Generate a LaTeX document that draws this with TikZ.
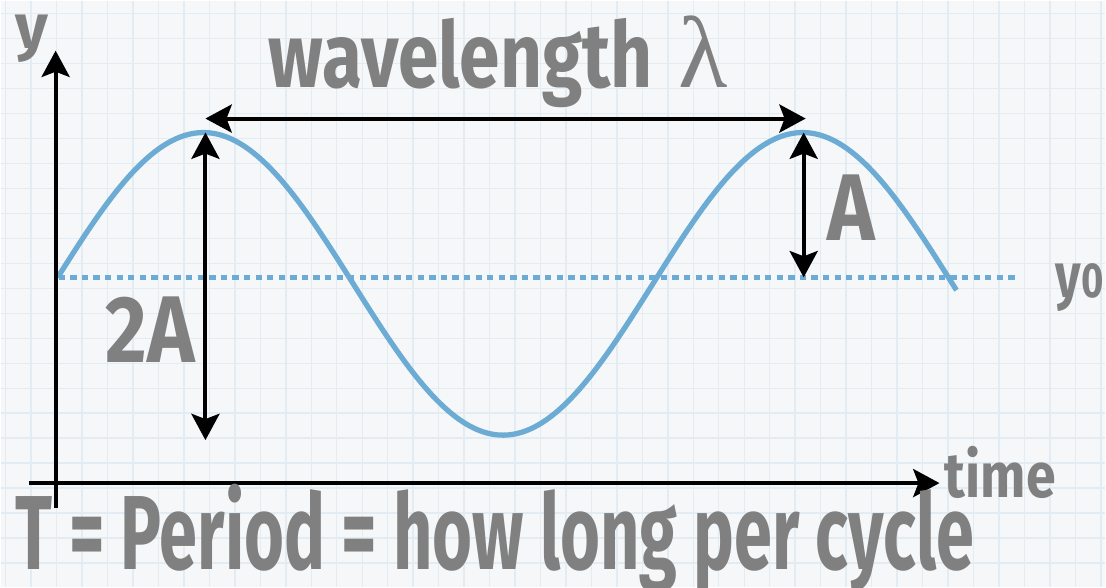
\documentclass[tikz,border=0pt]{standalone}
\usepackage{fontspec}
\setmainfont{Fira Sans}
\newfontfamily\lambdafont{Liberation Serif}
\usetikzlibrary{arrows.meta,positioning}
\definecolor{chalkgray}{RGB}{128,128,128}
\definecolor{waveblue}{RGB}{108,171,211}
\definecolor{paperwhite}{RGB}{245,247,249}
\definecolor{paperline}{RGB}{226,236,242}
\tikzset{
  axisline/.style={line width=2.3pt,-{Stealth[length=15pt,width=16pt,inset=3pt]}},
  spanline/.style={line width=2.3pt,{Stealth[length=15pt,width=16pt,inset=3pt]}-{Stealth[length=15pt,width=16pt,inset=3pt]}},
  chalk/.style={text=chalkgray,inner sep=0pt,anchor=base west},
}
\newcommand{\chalkfont}[1]{\bfseries\fontsize{#1}{#1}\selectfont}

\begin{document}
\begin{tikzpicture}[x=0.02cm,y=-0.02cm]
  % paper
  \fill[paperwhite] (0,0) rectangle (1106,587);
  \foreach \gx in {5,30.5,...,1106} \draw[paperline,line width=0.8pt] (\gx,0) -- (\gx,587);
  \foreach \gy in {13,38,...,587} \draw[paperline,line width=0.8pt] (0,\gy) -- (1106,\gy);
  \useasboundingbox (0,0) rectangle (1106,587);

  % points on the wave
  \coordinate (ybot) at (55,508);
  \coordinate (ytop) at (55,50);
  \coordinate (xleft) at (28,483);
  \coordinate (xright) at (940,483);
  \coordinate (peakL) at (205,132);
  \coordinate (peakR) at (804,132);
  \coordinate (lowL) at (205,440);
  \coordinate (midR) at (804,277);
  \coordinate (lamL) at (205,118);
  \coordinate (lamR) at (806,118);
  \coordinate (zeroL) at (58,277);
  \coordinate (zeroR) at (1017,277);

  \draw[waveblue,line width=2.6pt,dash pattern=on 3.6pt off 3pt] (zeroL) -- (zeroR);
  \draw[waveblue,line width=3pt,domain=57:957,samples=150,smooth] plot (\x,{283.5-151.5*sin((\x-53)*0.6)});

  \draw[axisline] (ybot) -- (ytop);
  \draw[axisline] (xleft) -- (xright);
  \draw[spanline] (lamL) -- (lamR);
  \draw[spanline] (peakL) -- (lowL);
  \draw[spanline] (peakR) -- (midR);

  \node[chalk,font=\chalkfont{36}] (ylab) at (14,48) {y};
  \node[chalk,font=\chalkfont{52},xscale=0.8] (wavelab) at (268,87) {wavelength};
  \node[chalk,font=\lambdafont\fontsize{58}{58}\selectfont] (lamlab) at (678,87) {λ};
  \node[chalk,font=\chalkfont{54},xscale=0.85] (amplab) at (828,240) {A};
  \node[chalk,font=\chalkfont{54},xscale=0.85] (twoamplab) at (105,362) {2A};
  \node[chalk,font=\chalkfont{36},xscale=0.78] (ymidlab) at (1056,297) {y{\chalkfont{28}0}};
  \node[chalk,font=\chalkfont{36},xscale=0.85] (timelab) at (945,497) {time};
  \node[chalk,font=\chalkfont{60},xscale=0.65] (periodlab) at (15,570) {T = Period = how long per cycle};
\end{tikzpicture}
\end{document}
